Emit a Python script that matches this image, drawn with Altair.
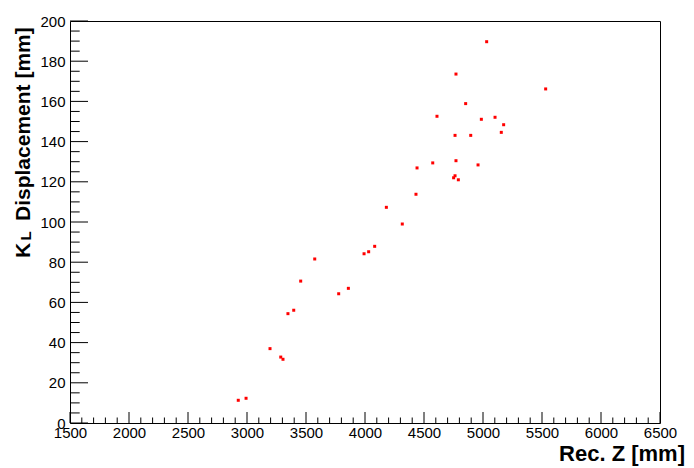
import altair as alt
import pandas as pd

# Data
rec_z = [5031, 4771, 5531, 4853, 4610, 4986, 5102, 5175, 5155, 4763, 4896,
         4771, 4574, 4441, 4958, 4763, 4751, 4791, 4432, 4181, 4316, 4082,
         4031, 3992, 3574, 3455, 3859, 3777, 3396, 3347, 3195, 3286, 3305,
         2926, 2992]
kl_disp = [189.7, 173.6, 166.2, 158.9, 152.6, 151.1, 152.1, 148.4, 144.6, 143.1, 143.1,
           130.5, 129.4, 126.9, 128.4, 123.0, 122.0, 121.0, 113.8, 107.3, 99.0, 87.9,
           85.2, 84.2, 81.6, 70.6, 67.0, 64.3, 56.1, 54.4, 37.0, 32.8, 31.7,
           11.3, 12.3]

x_major = list(range(1500, 6501, 500))
x_minor = [v for v in range(1500, 6501, 100) if v % 500]
y_major = list(range(0, 201, 20))
y_minor = [v for v in range(0, 201, 5) if v % 20]

x_title = ["Rec. Z [mm]"]
y_title_main = ["K"]
y_title_sub = ["L"]
y_title_rest = ["Displacement [mm]"]

FONT = "Liberation Sans"
W, H = 590, 402

xs = alt.Scale(domain=[1500, 6500], nice=False, zero=False)
ys = alt.Scale(domain=[0, 200], nice=False, zero=False)

axis_common = dict(ticks=False, domain=False, grid=False, labelFontSize=15,
                   labelFont=FONT, labelColor="black", labelOverlap=False,
                   labelFlush=False, title=None, format="d")
x_axis = alt.Axis(values=x_major, labelPadding=2, **axis_common)
y_axis = alt.Axis(values=y_major, labelPadding=5, **axis_common)

pts = alt.Chart(pd.DataFrame({"z": rec_z, "d": kl_disp})).mark_square(
    size=9, color="#ff0000", opacity=1, filled=True
).encode(
    x=alt.X("z:Q", scale=xs, axis=x_axis),
    y=alt.Y("d:Q", scale=ys, axis=y_axis),
)

def xticks(vals, length):
    return alt.Chart(pd.DataFrame({"v": vals})).mark_rule(color="black", strokeWidth=1).encode(
        x=alt.X("v:Q", scale=xs, axis=x_axis),
        y=alt.value(H), y2=alt.value(H - length))

def yticks(vals, length):
    return alt.Chart(pd.DataFrame({"v": vals})).mark_rule(color="black", strokeWidth=1).encode(
        y=alt.Y("v:Q", scale=ys, axis=y_axis),
        x=alt.value(0), x2=alt.value(length))

def label(txt, x, y, size, angle=0, align="left"):
    m = dict(align=align, baseline="alphabetic", font=FONT, fontSize=size,
             fontWeight="bold", color="black")
    if angle:
        m["angle"] = angle
    return alt.Chart(pd.DataFrame({"t": txt})).mark_text(**m).encode(
        text="t:N", x=alt.value(x), y=alt.value(y))

chart = alt.layer(
    xticks(x_minor, 5.5), xticks(x_major, 11),
    yticks(y_minor, 9.7), yticks(y_major, 18),
    pts,
    label(x_title, 615, 440, 22, align="right"),
    label(y_title_main, -40, 237, 21, angle=270),
    label(y_title_sub, -39, 219.5, 15, angle=270),
    label(y_title_rest, -40, 200, 21, angle=270),
).properties(
    width=W, height=H,
    padding={"left": 62, "top": 13, "right": 26, "bottom": 45},
    autosize=alt.AutoSizeParams(type="none"),
).configure_view(stroke="black", strokeWidth=1)

chart.save("out.html", embed_options={"renderer": "svg", "actions": False})
